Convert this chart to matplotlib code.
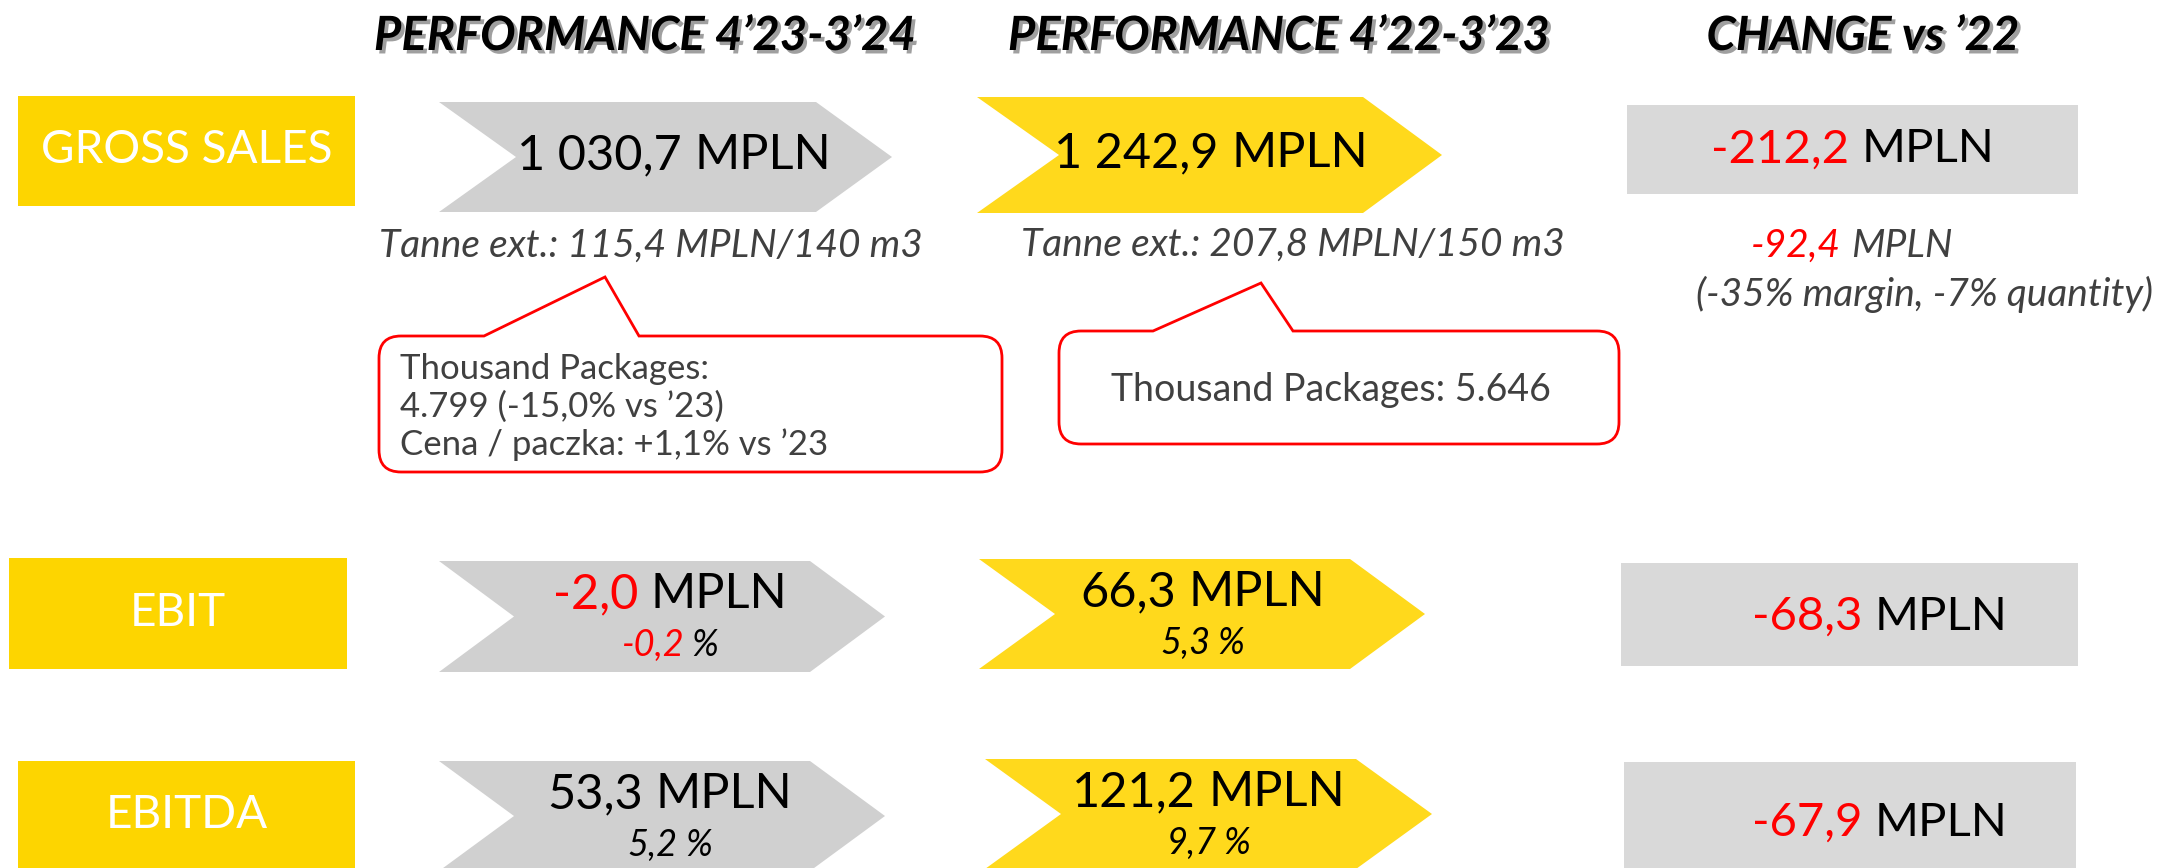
import matplotlib
matplotlib.use("Agg")
import matplotlib.pyplot as plt
from matplotlib.patches import Polygon, Rectangle, PathPatch
from matplotlib.path import Path
import matplotlib.patheffects as pe

# data
metrics = ["GROSS SALES", "EBIT", "EBITDA"]
headers = ["PERFORMANCE 4\u201923-3\u201924", "PERFORMANCE 4\u201922-3\u201923", "CHANGE vs \u201922"]
cur_vals = [1030.7, -2.0, 53.3]
prev_vals = [1242.9, 66.3, 121.2]
change_vals = [-212.2, -68.3, -67.9]
cur_margin = [None, -0.2, 5.2]
prev_margin = [None, 5.3, 9.7]
tanne_cur = "Tanne ext.: 115,4 MPLN/140 m3"
tanne_prev = "Tanne ext.: 207,8 MPLN/150 m3"
tanne_change = -92.4
tanne_note = "(-35% margin, -7% quantity)"
callout_cur = ["Thousand Packages:", "4.799 (-15,0% vs \u201923)", "Cena / paczka: +1,1% vs \u201923"]
callout_prev = ["Thousand Packages: 5.646"]

GOLD = "#FDD500"
YEL = "#FFD91C"
GRAY = "#D0D0D0"
LGRAY = "#D9D9D9"
RED = "#FF0000"
DARK = "#404040"
FONT = ["Lato", "DejaVu Sans"]

W, H = 2174, 868
fig = plt.figure(figsize=(W / 100, H / 100), dpi=100)
ax = fig.add_axes([0, 0, 1, 1])
ax.set_xlim(0, W)
ax.set_ylim(H, 0)
ax.axis("off")
renderer = fig.canvas.get_renderer()


def pl(v):
    return f"{v:,.1f}".replace(",", " ").replace(".", ",")


def rich(x, y, parts, size, style="normal", weight="normal", gap=0.26):
    # several coloured pieces on one line, centred on x
    texts = []
    for s, c in parts:
        texts.append(ax.text(0, y, s, color=c, fontsize=size, style=style, weight=weight,
                             family=FONT, ha="left", va="center"))
    widths = [t.get_window_extent(renderer).width for t in texts]
    sp = size * 100 / 72 * gap
    total = sum(widths) + sp * (len(texts) - 1)
    x0 = x - total / 2
    for t, w in zip(texts, widths):
        t.set_x(x0)
        x0 += w + sp


def chevron(xl, xn, xr, xt, yt, yb, color):
    yc = (yt + yb) / 2
    ax.add_patch(Polygon([(xl, yt), (xr, yt), (xt, yc), (xr, yb), (xl, yb), (xn, yc)],
                         closed=True, fc=color, ec="none"))


def callout(x0, x1, y0, y1, b0, tip, b1, r=22):
    verts = [(b0, y0), tip, (b1, y0), (x1 - r, y0), (x1, y0), (x1, y0 + r),
             (x1, y1 - r), (x1, y1), (x1 - r, y1), (x0 + r, y1), (x0, y1), (x0, y1 - r),
             (x0, y0 + r), (x0, y0), (x0 + r, y0), (b0, y0)]
    codes = [Path.MOVETO, Path.LINETO, Path.LINETO, Path.LINETO, Path.CURVE3, Path.CURVE3,
             Path.LINETO, Path.CURVE3, Path.CURVE3, Path.LINETO, Path.CURVE3, Path.CURVE3,
             Path.LINETO, Path.CURVE3, Path.CURVE3, Path.CLOSEPOLY]
    ax.add_patch(PathPatch(Path(verts, codes), fc="white", ec=RED, lw=2))


# headers
shadow = [pe.SimplePatchShadow(offset=(2.5, -2.5), shadow_rgbFace="#606060", alpha=0.6), pe.Normal()]
for hx, htxt in zip([645, 1279, 1863], headers):
    ax.text(hx, 36, htxt, fontsize=34, style="italic", weight="bold", family=FONT,
            ha="center", va="center", color="black", path_effects=shadow)

# row geometry
label_boxes = [(18, 355, 96, 206), (9, 347, 558, 669), (18, 355, 761, 880)]
gray_chev = [(439, 516, 816, 892, 102, 212), (439, 514, 810, 885, 561, 672), (439, 514, 810, 885, 761, 871)]
yel_chev = [(977, 1059, 1363, 1442, 97, 213), (979, 1055, 1350, 1425, 559, 669), (985, 1061, 1356, 1432, 759, 869)]
chg_boxes = [(1627, 2078, 105, 194), (1621, 2078, 563, 666), (1624, 2076, 762, 880)]
label_y = [150, 613, 815]

for i, m in enumerate(metrics):
    x0, x1, y0, y1 = label_boxes[i]
    ax.add_patch(Rectangle((x0, y0), x1 - x0, y1 - y0, fc=GOLD, ec="none"))
    ax.text((x0 + x1) / 2, label_y[i], m, fontsize=33, color="white", family=FONT,
            ha="center", va="center")

    g = gray_chev[i]
    chevron(*g, GRAY)
    yv = yel_chev[i]
    chevron(*yv, YEL)
    cx0, cx1, cy0, cy1 = chg_boxes[i]
    ax.add_patch(Rectangle((cx0, cy0), cx1 - cx0, cy1 - cy0, fc=LGRAY, ec="none"))

    gxc = (g[1] + g[2]) / 2 + 8
    yxc = (yv[1] + yv[2]) / 2
    if cur_margin[i] is None:
        gy = (g[4] + g[5]) / 2
        yy = (yv[4] + yv[5]) / 2
        rich(gxc, gy - 2, [(pl(cur_vals[i]), "black"), ("MPLN", "black")], 35)
        rich(yxc, yy - 2, [(pl(prev_vals[i]), "black"), ("MPLN", "black")], 35)
    else:
        gy = g[4] + 33
        yy = yv[4] + 33
        c1 = RED if cur_vals[i] < 0 else "black"
        rich(gxc, gy, [(pl(cur_vals[i]), c1), ("MPLN", "black")], 35)
        c2 = RED if cur_margin[i] < 0 else "black"
        rich(gxc, gy + 51, [(pl(cur_margin[i]), c2), ("%", "black")], 26, style="italic", gap=0.2)
        rich(yxc, yy, [(pl(prev_vals[i]), "black"), ("MPLN", "black")], 35)
        rich(yxc, yy + 51, [(pl(prev_margin[i]), "black"), ("%", "black")], 26, style="italic", gap=0.2)
    rich((cx0 + cx1) / 2 + (0 if i == 0 else 30), (cy0 + cy1) / 2 + (0 if i == 0 else 2),
         [(pl(change_vals[i]), RED), ("MPLN", "black")], 34)

# gross sales notes
ax.text(651, 246, tanne_cur, fontsize=28, style="italic", family=FONT, color=DARK, ha="center", va="center")
ax.text(1293, 245, tanne_prev, fontsize=28, style="italic", family=FONT, color=DARK, ha="center", va="center")
rich(1852, 246, [(pl(tanne_change), RED), ("MPLN", DARK)], 28, style="italic")
ax.text(1925, 294, tanne_note, fontsize=28, style="italic", family=FONT, color=DARK, ha="center", va="center")

# callouts
callout(379, 1002, 336, 472, 484, (605, 277), 639)
for k, line in enumerate(callout_cur):
    ax.text(400, 369 + k * 38, line, fontsize=25, family=FONT, color=DARK,
            ha="left", va="center")
callout(1059, 1619, 331, 444, 1153, (1261, 283), 1293)
ax.text(1331, 390, callout_prev[0], fontsize=27, family=FONT, color=DARK,
        ha="center", va="center")

fig.savefig("out.png", dpi=100)
